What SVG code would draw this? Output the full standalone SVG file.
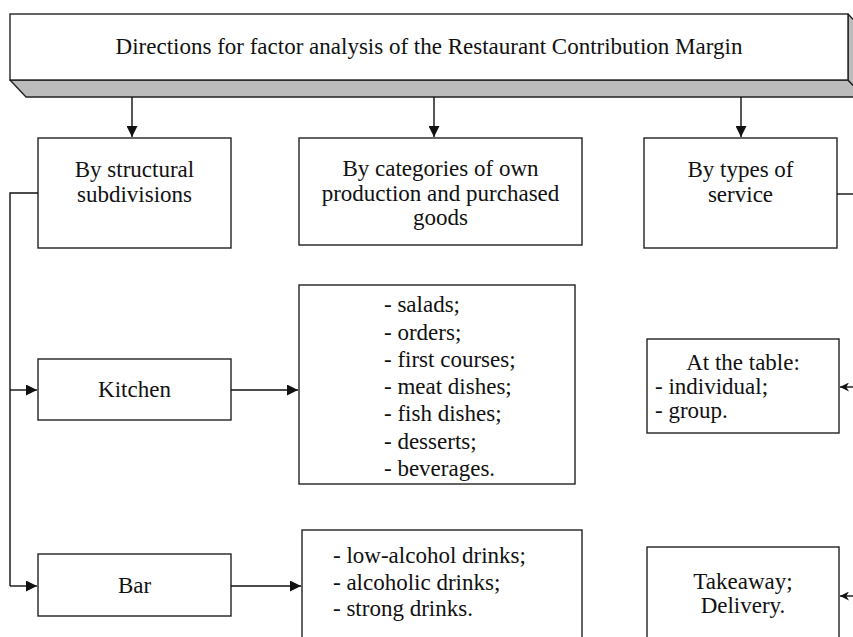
<svg xmlns="http://www.w3.org/2000/svg" width="853" height="637" viewBox="0 0 853 637">
<style>
.box{fill:#fff;stroke:#222;stroke-width:1.4}
.bev{fill:#bcbcbc;stroke:#222;stroke-width:1.4;stroke-linejoin:round}
.t{font-family:"Liberation Serif","Times New Roman",serif;font-size:23px;fill:#111}
.c{text-anchor:middle}
.ln{fill:none;stroke:#111;stroke-width:1.4}
</style>
<defs>
<marker id="ah" markerUnits="userSpaceOnUse" markerWidth="11" markerHeight="11" refX="10" refY="5" orient="auto" viewBox="0 0 10 10">
<path d="M0,0 L10,5 L0,10 z" fill="#111"/>
</marker>
<marker id="ahs" markerUnits="userSpaceOnUse" markerWidth="9" markerHeight="9" refX="10" refY="5" orient="auto" viewBox="0 0 10 10">
<path d="M0,0 L10,5 L0,10 L3,5 z" fill="#111"/>
</marker>
</defs>
<rect width="853" height="637" fill="#fff"/>
<g id="title">
<polygon class="bev" points="10,80 848,80 864,97 26,97"/>
<polygon class="bev" points="848,14 864,31 864,97 848,80"/>
<rect class="box" x="10" y="14" width="838" height="66"/>
<text class="t c" x="429" y="54">Directions for factor analysis of the Restaurant Contribution Margin</text>
</g>
<g id="structural">
<rect class="box" x="38" y="138" width="193" height="110"/>
<text class="t c" x="134.5" y="177">By structural</text>
<text class="t c" x="134.5" y="201.5">subdivisions</text>
</g>
<g id="categories">
<rect class="box" x="299" y="138" width="283" height="107"/>
<text class="t c" x="440.5" y="176">By categories of own</text>
<text class="t c" x="440.5" y="200.5">production and purchased</text>
<text class="t c" x="440.5" y="225">goods</text>
</g>
<g id="service">
<rect class="box" x="644" y="138" width="193" height="110"/>
<text class="t c" x="740.5" y="177">By types of</text>
<text class="t c" x="740.5" y="201.5">service</text>
</g>
<g id="kitchen">
<rect class="box" x="38" y="359" width="193" height="61"/>
<text class="t c" x="134.5" y="397">Kitchen</text>
</g>
<g id="bar">
<rect class="box" x="38" y="554" width="193" height="62"/>
<text class="t c" x="134.5" y="593">Bar</text>
</g>
<g id="kitchen-list">
<rect class="box" x="299" y="285" width="276" height="199"/>
<text class="t" x="384" y="312">- salads;</text>
<text class="t" x="384" y="339.5">- orders;</text>
<text class="t" x="384" y="366.5">- first courses;</text>
<text class="t" x="384" y="394">- meat dishes;</text>
<text class="t" x="384" y="421">- fish dishes;</text>
<text class="t" x="384" y="448.5">- desserts;</text>
<text class="t" x="384" y="476">- beverages.</text>
</g>
<g id="bar-list">
<rect class="box" x="302" y="530" width="280" height="130"/>
<text class="t" x="333" y="563">- low-alcohol drinks;</text>
<text class="t" x="333" y="589.5">- alcoholic drinks;</text>
<text class="t" x="333" y="616">- strong drinks.</text>
</g>
<g id="table">
<rect class="box" x="647" y="339" width="192" height="94"/>
<text class="t c" x="743" y="369.5">At the table:</text>
<text class="t" x="655" y="393.5">- individual;</text>
<text class="t" x="655" y="417.5">- group.</text>
</g>
<g id="takeaway">
<rect class="box" x="647" y="547" width="192" height="110"/>
<text class="t c" x="743" y="589">Takeaway;</text>
<text class="t c" x="743" y="612.5">Delivery.</text>
</g>
<g id="connectors">
<line class="ln" x1="132" y1="97" x2="132" y2="137" marker-end="url(#ah)"/>
<line class="ln" x1="434" y1="97" x2="434" y2="137" marker-end="url(#ah)"/>
<line class="ln" x1="741" y1="97" x2="741" y2="137" marker-end="url(#ah)"/>
<polyline class="ln" points="38,193 10,193 10,586"/>
<line class="ln" x1="10" y1="390" x2="37" y2="390" marker-end="url(#ah)"/>
<line class="ln" x1="10" y1="586" x2="37" y2="586" marker-end="url(#ah)"/>
<line class="ln" x1="231" y1="390" x2="298" y2="390" marker-end="url(#ah)"/>
<line class="ln" x1="231" y1="586" x2="301" y2="586" marker-end="url(#ah)"/>
<line class="ln" x1="837" y1="194" x2="853" y2="194"/>
<line class="ln" x1="853" y1="387" x2="840" y2="387" marker-end="url(#ahs)"/>
<line class="ln" x1="853" y1="596" x2="840" y2="596" marker-end="url(#ahs)"/>
</g>
</svg>
